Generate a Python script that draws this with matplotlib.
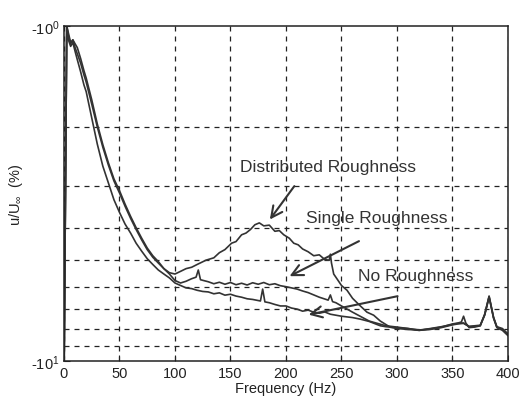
import numpy as np
import matplotlib
matplotlib.use("Agg")
import matplotlib.pyplot as plt
from matplotlib.ticker import FixedLocator, NullFormatter

plt.rcParams['font.family'] = ['Liberation Sans', 'DejaVu Sans']
plt.rcParams['mathtext.default'] = 'regular'

# magnitude of u/U (1 = top, 10 = bottom)
freq_no = [0, 2.5, 4, 6, 8, 10, 12, 15, 18, 20, 25, 30, 35, 40, 45, 50, 55, 60, 65, 70,
           75, 80, 85, 90, 95, 100, 105, 110, 115, 120, 125, 130, 135, 140, 145, 150,
           155, 160, 165, 170, 177, 179, 181, 185, 190, 195, 200, 205, 210, 215, 220,
           225, 230, 235, 240, 245, 250, 260, 267, 275, 285, 290, 300, 310, 320, 330,
           340, 350, 355, 360, 365, 370, 375, 379, 383, 387, 390, 395, 400]
mag_no = [12, 1.0, 1.10, 1.15, 1.12, 1.19, 1.26, 1.37, 1.50, 1.57, 1.88, 2.25, 2.62, 2.94,
          3.30, 3.60, 3.90, 4.15, 4.45, 4.70, 4.95, 5.15, 5.35, 5.50, 5.65, 5.85, 5.95,
          6.05, 6.08, 6.15, 6.20, 6.22, 6.30, 6.26, 6.36, 6.32, 6.40, 6.45, 6.52, 6.55,
          6.62, 6.10, 6.66, 6.70, 6.78, 6.85, 6.85, 6.95, 7.00, 7.10, 7.05, 7.15, 7.20,
          7.14, 7.25, 7.30, 7.35, 7.42, 7.50, 7.62, 7.85, 7.90, 7.95, 8.00, 8.10, 8.05,
          7.95, 7.80, 7.75, 7.72, 7.90, 7.88, 7.85, 7.30, 6.45, 7.45, 7.95, 8.10, 8.40]

freq_single = [0, 2.5, 4, 6, 8, 10, 12, 15, 18, 20, 25, 30, 35, 40, 45, 50, 55, 60, 65,
               70, 75, 80, 85, 90, 95, 100, 105, 110, 115, 119, 121, 123, 130, 135, 140,
               145, 150, 155, 160, 165, 170, 175, 180, 185, 190, 195, 200, 210, 215, 220,
               230, 238, 240, 242, 245, 250, 260, 275, 290, 300, 310, 320, 330, 340, 350,
               355, 358, 360, 362, 365, 370, 375, 379, 383, 387, 390, 395, 400]
mag_single = [12, 1.0, 1.05, 1.12, 1.10, 1.13, 1.16, 1.25, 1.36, 1.43, 1.66, 1.96, 2.26,
              2.56, 2.86, 3.10, 3.40, 3.70, 4.00, 4.30, 4.60, 4.85, 5.05, 5.30, 5.50, 5.75,
              5.85, 5.78, 5.68, 5.62, 5.35, 5.72, 5.80, 5.88, 5.82, 5.90, 5.83, 5.92, 5.86,
              5.93, 5.84, 5.90, 5.83, 5.92, 5.88, 5.96, 6.00, 6.10, 6.18, 6.25, 6.45, 6.58,
              6.35, 6.65, 6.70, 6.85, 7.15, 7.60, 7.85, 7.92, 8.00, 8.08, 8.02, 7.92, 7.75,
              7.70, 7.65, 7.35, 7.70, 7.95, 7.92, 7.85, 7.25, 6.40, 7.40, 7.90, 8.00, 8.30]

freq_dist = [0, 2.5, 4, 6, 8, 10, 12, 15, 18, 20, 25, 30, 35, 40, 45, 50, 55, 60, 65, 70,
             75, 80, 85, 90, 95, 100, 105, 110, 115, 120, 128, 135, 140, 145, 151, 155,
             160, 164, 168, 172, 176, 180, 185, 190, 194, 198, 203, 207, 211, 215, 220,
             225, 230, 235, 239, 240, 241, 243, 250, 255, 260, 266, 273, 279, 285, 294,
             300, 310, 320, 330, 340, 350, 355, 360, 365, 370, 375, 379, 383, 387, 390,
             395, 400]
mag_dist = [12, 1.0, 1.07, 1.13, 1.10, 1.16, 1.21, 1.29, 1.40, 1.47, 1.71, 2.00, 2.30,
            2.60, 2.90, 3.15, 3.45, 3.75, 4.05, 4.35, 4.65, 4.90, 5.10, 5.30, 5.45, 5.50,
            5.40, 5.30, 5.25, 5.15, 5.00, 4.92, 4.75, 4.65, 4.45, 4.40, 4.20, 4.15, 4.05,
            3.92, 3.87, 3.95, 3.93, 4.10, 4.08, 4.20, 4.30, 4.45, 4.50, 4.63, 4.72, 4.85,
            4.82, 4.98, 5.00, 4.80, 5.10, 5.50, 5.95, 6.15, 6.50, 6.80, 7.15, 7.30, 7.60,
            7.93, 8.00, 8.05, 8.10, 8.00, 7.90, 7.78, 7.72, 7.70, 7.88, 7.85, 7.82, 7.28,
            6.42, 7.42, 7.92, 8.05, 8.35]

x_ticks = [0, 50, 100, 150, 200, 250, 300, 350, 400]
y_minor = [2, 3, 4, 5, 6, 7, 8, 9]

fig = plt.figure(figsize=(5.24, 4.02), dpi=100)
ax = fig.add_axes([0.1221, 0.0995, 0.8473, 0.8333])

curve_color = '#333333'
ax.plot(freq_no, mag_no, color=curve_color, lw=1.2)
ax.plot(freq_single, mag_single, color=curve_color, lw=1.2)
ax.plot(freq_dist, mag_dist, color=curve_color, lw=1.2)

ax.set_yscale('log')
ax.set_ylim(10, 1)
ax.set_xlim(0, 400)

ax.set_xticks(x_ticks)
ax.yaxis.set_major_locator(FixedLocator([1, 10]))
ax.set_yticklabels(['-10$^0$', '-10$^1$'])
ax.yaxis.set_minor_locator(FixedLocator(y_minor))
ax.yaxis.set_minor_formatter(NullFormatter())

ax.grid(True, which='major', axis='x', color='#222222', ls=(0, (4, 4)), lw=0.9)
ax.grid(True, which='minor', axis='y', color='#222222', ls=(0, (4, 4)), lw=0.9)
ax.tick_params(which='both', direction='in', labelsize=10.5, length=4, colors='#222222')
ax.tick_params(axis='y', which='minor', length=3)
for s in ax.spines.values():
    s.set_linewidth(1.1)
    s.set_color('#222222')

ax.set_xlabel('Frequency (Hz)', fontsize=10.5, labelpad=1, color='#222222')
ax.set_ylabel('u/U$_{\\infty}$  (%)', fontsize=10.5, labelpad=4, color='#222222')

arrow = dict(arrowstyle='->', color='#333333', lw=1.5, mutation_scale=20)
ax.text(158.6, 2.62, 'Distributed Roughness', fontsize=12.5, va='center', ha='left', color='#333333')
ax.annotate('', xy=(184, 3.84), xytext=(209, 2.96), arrowprops=arrow)
ax.text(218, 3.72, 'Single Roughness', fontsize=12.5, va='center', ha='left', color='#333333')
ax.annotate('', xy=(201, 5.63), xytext=(268, 4.35), arrowprops=arrow)
ax.text(265, 5.56, 'No Roughness', fontsize=12.5, va='center', ha='left', color='#333333')
ax.annotate('', xy=(218, 7.30), xytext=(303, 6.38), arrowprops=arrow)

fig.savefig('out.png', dpi=100)
